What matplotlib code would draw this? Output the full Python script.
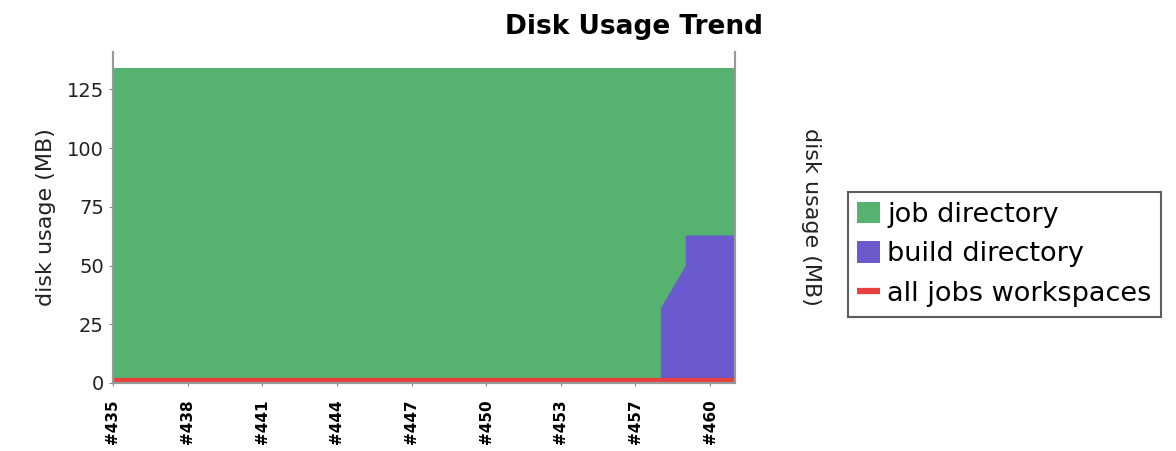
import matplotlib

matplotlib.use("Agg")
import matplotlib.pyplot as plt

# builds shown on the category axis (#456 missing)
builds = list(range(435, 456)) + list(range(457, 462))
tick_every = 3

job_dir_mb = [134] * len(builds)
workspaces_mb = [1] * len(builds)

# build directory outline, in category positions (renderer draws steps at items)
build_pos = [22, 22, 23, 23, 25]
build_mb = [0, 32, 50, 63, 63]

legend_labels = ["job directory", "build directory", "all jobs workspaces"]
green = "#55b26f"
purple = "#6a5acd"
red = "#e8403f"

fig = plt.figure(figsize=(11.76, 4.51), dpi=100)
ax = fig.add_axes([0.096, 0.151, 0.529, 0.734])

x = list(range(len(builds)))
ax.fill_between(x, 0, job_dir_mb, color=green, lw=0, label=legend_labels[0])
ax.fill_between(build_pos, 0, build_mb, color=purple, lw=0, label=legend_labels[1])
ax.plot(x, workspaces_mb, color=red, lw=4.5, solid_capstyle="butt", label=legend_labels[2])

ax.set_xlim(0, len(builds) - 1)
ax.set_ylim(0, 141)
ax.set_yticks([0, 25, 50, 75, 100, 125])
ax.set_xticks(x[::tick_every])
ax.set_xticklabels([f"#{b}" for b in builds[::tick_every]], rotation=90, fontsize=11, fontweight="bold")
ax.tick_params(axis="y", labelsize=14, length=3, color="#888888", labelright=True, right=True,
               labelcolor="#222222")
ax.tick_params(axis="x", length=2, color="#888888", pad=10)
ax.set_ylabel("disk usage (MB)", fontsize=16, color="#222222", labelpad=8)
ax2 = ax.twinx()
ax2.set_ylim(ax.get_ylim())
ax2.set_yticks([])
ax2.set_ylabel("disk usage (MB)", fontsize=16, rotation=-90, labelpad=62, color="#222222")
for a in (ax, ax2):
    a.spines["top"].set_visible(False)
    for s in ("left", "right", "bottom"):
        a.spines[s].set_color("#999999")
        a.spines[s].set_linewidth(1.5)

fig.text(0.539, 0.94, "Disk Usage Trend", fontsize=19, fontweight="bold", ha="center", va="center")

handles, labels = ax.get_legend_handles_labels()
leg = fig.legend(handles, labels, loc="center left", bbox_to_anchor=(0.721, 0.436),
                 fontsize=19.5, frameon=True, fancybox=False, edgecolor="#333333",
                 handlelength=0.85, handleheight=0.85, handletextpad=0.25, borderpad=0.35,
                 labelspacing=0.5, borderaxespad=0)
leg.get_frame().set_linewidth(1.5)

fig.savefig("out.png")
